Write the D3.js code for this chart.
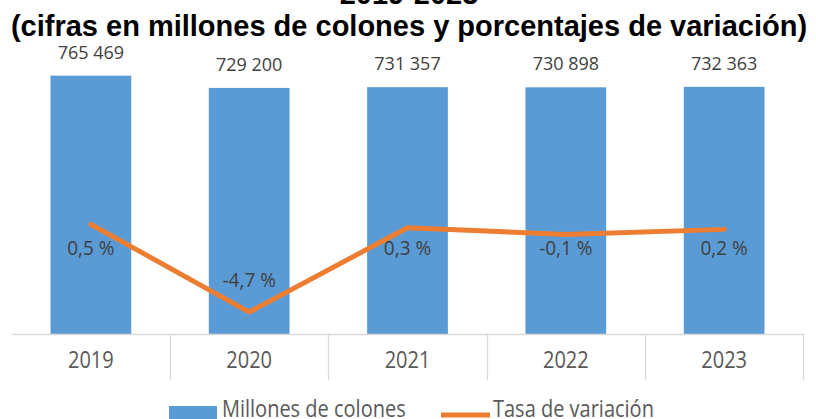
<!DOCTYPE html>
<html>
<head>
<meta charset="utf-8">
<script src="https://cdn.jsdelivr.net/npm/d3@7"></script>
<style>
  html, body { margin: 0; padding: 0; background: #ffffff; }
  svg { display: block; }
</style>
</head>
<body>
<svg id="chart" width="816" height="419"></svg>
<script>
const titleLines = ["2019-2023", "(cifras en millones de colones y porcentajes de variación)"];
const years = ["2019", "2020", "2021", "2022", "2023"];
const millones = [765469, 729200, 731357, 730898, 732363];
const tasa = [0.5, -4.7, 0.3, -0.1, 0.2];
const seriesNames = ["Millones de colones", "Tasa de variación"];

const W = 816, H = 419;
const svg = d3.select("#chart");
const BLUE = "#5B9BD5", ORANGE = "#ED7D31", TXT = "#404040", GRID = "#D9D9D9";
const FONT = "'Open Sans', sans-serif";

const x = d3.scaleBand().domain(years).range([11.7, 803.3]).paddingInner(0.49).paddingOuter(0.245);
const y = d3.scaleLinear().domain([0, 800000]).range([334, 64]);
const y2 = d3.scaleLinear().domain([-6, 10]).range([334, 64]);

// Title
svg.append("text").attr("x", 409).attr("y", 4).attr("text-anchor", "middle")
  .attr("font-family", "'Liberation Sans', Arial, sans-serif").attr("font-weight", "bold")
  .attr("font-size", 29).attr("fill", "#000").text(titleLines[0]);
svg.append("text").attr("x", 409).attr("y", 36).attr("text-anchor", "middle")
  .attr("font-family", "'Liberation Sans', Arial, sans-serif").attr("font-weight", "bold")
  .attr("font-size", 29).attr("fill", "#000").text(titleLines[1]);

// Bars
svg.append("g").selectAll("rect").data(years).join("rect")
  .attr("x", d => x(d)).attr("width", x.bandwidth())
  .attr("y", (d, i) => y(millones[i])).attr("height", (d, i) => y(0) - y(millones[i]))
  .attr("fill", BLUE);

// Axis
const step = x.step();
const axisG = svg.append("g");
axisG.append("line").attr("x1", x.range()[0]).attr("x2", x.range()[1])
  .attr("y1", y(0) + 0.5).attr("y2", y(0) + 0.5).attr("stroke", GRID).attr("stroke-width", 1.3);
const bounds = years.map(d => x(d) + x.bandwidth() + (step - x.bandwidth()) / 2);
axisG.selectAll("line.tick").data(bounds).join("line").attr("class", "tick")
  .attr("x1", d => Math.round(d) + 0.5).attr("x2", d => Math.round(d) + 0.5)
  .attr("y1", y(0)).attr("y2", 380).attr("stroke", GRID).attr("stroke-width", 1.3);
axisG.selectAll("text").data(years).join("text")
  .attr("transform", d => `translate(${x(d) + x.bandwidth() / 2},368) scale(1,1.2)`)
  .attr("text-anchor", "middle")
  .attr("font-family", FONT).attr("font-size", 20).attr("fill", "#595959").text(d => d);

// Bar value labels
const fmt = v => d3.format(",")(v).replace(/,/g, " ");
svg.append("g").selectAll("text").data(years).join("text")
  .attr("transform", (d, i) => `translate(${x(d) + x.bandwidth() / 2},${y(millones[i]) - 17}) scale(1,1.05)`)
  .attr("text-anchor", "middle").attr("font-family", FONT).attr("font-size", 18)
  .attr("fill", TXT).text((d, i) => fmt(millones[i]));

// Line
const line = d3.line().x((v, i) => x(years[i]) + x.bandwidth() / 2).y(v => y2(v));
svg.append("path").datum(tasa).attr("d", line).attr("fill", "none")
  .attr("stroke", ORANGE).attr("stroke-width", 5).attr("stroke-linejoin", "round").attr("stroke-linecap", "round");

// Line labels
const minV = d3.min(tasa);
const pct = v => d3.format(".1f")(v).replace("−", "-").replace(".", ",") + " %";
svg.append("g").selectAll("text").data(tasa).join("text")
  .attr("transform", (v, i) => `translate(${x(years[i]) + x.bandwidth() / 2},${v === minV ? y2(v) - 25 : y2(0) + 22}) scale(1,1.05)`)
  .attr("text-anchor", "middle").attr("font-family", FONT).attr("font-size", 19)
  .attr("fill", TXT).text(v => pct(v));

// Legend
const lg = svg.append("g");
lg.append("rect").attr("x", 169).attr("y", 406).attr("width", 48).attr("height", 16).attr("fill", BLUE);
lg.append("text").attr("transform", "translate(222,417) scale(1,1.2)").attr("font-family", FONT).attr("font-size", 20)
  .attr("fill", "#595959").text(seriesNames[0]);
lg.append("line").attr("x1", 441).attr("x2", 490).attr("y1", 415).attr("y2", 415)
  .attr("stroke", ORANGE).attr("stroke-width", 5);
lg.append("text").attr("transform", "translate(493,417) scale(1,1.2)").attr("font-family", FONT).attr("font-size", 20)
  .attr("fill", "#595959").text(seriesNames[1]);
</script>
</body>
</html>
